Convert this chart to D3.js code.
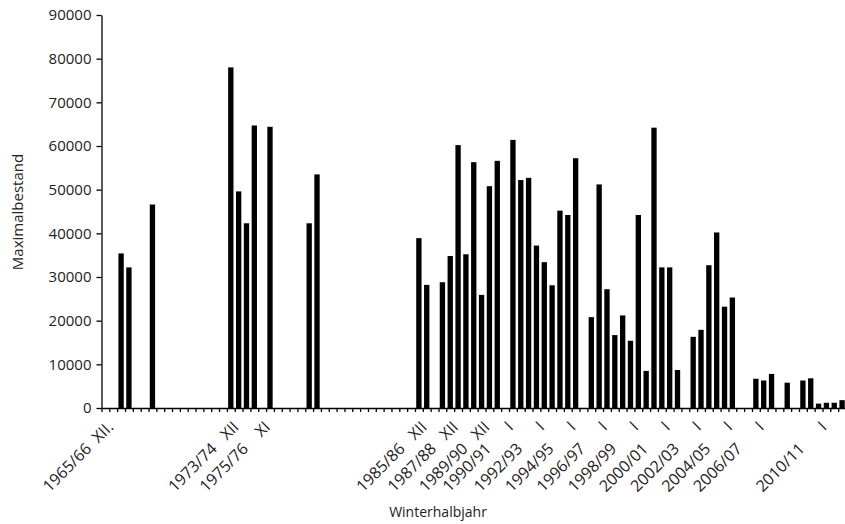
<!DOCTYPE html>
<html>
<head>
<meta charset="utf-8">
<script src="https://cdn.jsdelivr.net/npm/d3@7"></script>
<style>
  body { margin: 0; background: #fff; }
  svg { display: block; font-family: "Open Sans", "Noto Sans", sans-serif; }
</style>
</head>
<body>
<svg id="chart" width="845" height="524"></svg>
<script>
// winters, two slots each (late autumn / january)
const winters = ["1965/66","1966/67","1967/68","1968/69","1969/70","1970/71","1971/72","1972/73",
  "1973/74","1974/75","1975/76","1976/77","1977/78","1978/79","1979/80","1980/81","1981/82",
  "1982/83","1983/84","1984/85","1985/86","1986/87","1987/88","1988/89","1989/90","1990/91",
  "1991/92","1992/93","1993/94","1994/95","1995/96","1996/97","1997/98","1998/99","1999/00",
  "2000/01","2001/02","2002/03","2003/04","2004/05","2005/06","2006/07","2007/08","2008/09",
  "2009/10","2010/11","2011/12","2012/13"];
const slots = ["XII", "I"];

// Maximalbestand per slot (null = no count)
const values = [
  null, null, 35400, 32200, null, null, 46600, null, null, null,
  null, null, null, null, null, null, 78000, 49600, 42300, 64700,
  null, 64400, null, null, null, null, 42300, 53500, null, null,
  null, null, null, null, null, null, null, null, null, null,
  38900, 28200, null, 28800, 34800, 60200, 35200, 56300, 25900, 50800,
  56600, null, 61400, 52200, 52700, 37200, 33400, 28100, 45200, 44200,
  57200, null, 20800, 51200, 27200, 16700, 21200, 15400, 44200, 8500,
  64200, 32200, 32200, 8700, null, 16300, 17900, 32700, 40200, 23200,
  25300, null, null, 6700, 6300, 7800, null, 5800, null, 6300,
  6800, 1000, 1200, 1200, 1800
];

const categories = winters.flatMap(w => slots.map(s => w + " " + s)).slice(0, values.length);

// shown tick labels: [category, year part, month part]
const tickLabels = [
  ["1965/66 XII", "1965/66", "XII."],
  ["1973/74 XII", "1973/74", "XII"],
  ["1975/76 XII", "1975/76", "XI"],
  ["1985/86 XII", "1985/86", "XII"],
  ["1987/88 XII", "1987/88", "XII"],
  ["1989/90 XII", "1989/90", "XII"],
  ["1990/91 I", "1990/91", "I"],
  ["1992/93 I", "1992/93", "I"],
  ["1994/95 I", "1994/95", "I"],
  ["1996/97 I", "1996/97", "I"],
  ["1998/99 I", "1998/99", "I"],
  ["2000/01 I", "2000/01", "I"],
  ["2002/03 I", "2002/03", "I"],
  ["2004/05 I", "2004/05", "I"],
  ["2006/07 I", "2006/07", "I"],
  ["2010/11 I", "2010/11", "I"]
];
const yTicks = [0, 10000, 20000, 30000, 40000, 50000, 60000, 70000, 80000, 90000];

const plotLeft = 101.5, plotRight = 846, plotTop = 15, plotBottom = 408;
const svg = d3.select("#chart");

var x = d3.scaleBand().domain(categories).range([plotLeft, plotRight]).paddingInner(0.32).paddingOuter(0.16);
var xEdge = d3.scaleLinear().domain([0, categories.length]).range([plotLeft, plotRight]);
var y = d3.scaleLinear().domain([0, 90000]).range([plotBottom, plotTop]);

const data = categories.map((c, i) => ({cat: c, v: values[i]})).filter(d => d.v != null);

svg.append("g").selectAll("rect").data(data).enter().append("rect")
  .attr("x", d => x(d.cat))
  .attr("width", x.bandwidth())
  .attr("y", d => y(d.v))
  .attr("height", d => plotBottom - y(d.v))
  .attr("fill", "#000");

// x axis: ticks between categories
var gx = svg.append("g").attr("transform", `translate(0,${plotBottom})`)
  .call(d3.axisBottom(xEdge).tickValues(d3.range(categories.length + 1)).tickFormat("").tickSize(4).tickSizeOuter(0));
gx.select(".domain").attr("stroke", "#000").attr("stroke-width", 1.3);
gx.selectAll(".tick line").attr("stroke", "#000").attr("stroke-width", 1.3);

var gy = svg.append("g").attr("transform", `translate(${plotLeft},0)`)
  .call(d3.axisLeft(y).tickValues(yTicks).tickFormat(d3.format("d")).tickSize(5).tickSizeOuter(0).tickPadding(5));
gy.select(".domain").attr("stroke", "#000").attr("stroke-width", 1.3);
gy.selectAll(".tick line").attr("stroke", "#000").attr("stroke-width", 1.3);
gy.selectAll(".tick text").attr("font-size", 15).attr("fill", "#222").style("font-family", "Open Sans, sans-serif");

// rotated category labels, month part right-aligned
var lab = svg.append("g").selectAll("g").data(tickLabels).enter().append("g")
  .attr("transform", d => `translate(${x(d[0]) + x.bandwidth() / 2 + 5},${plotBottom + 16}) rotate(-45)`)
  .attr("font-size", 16).attr("fill", "#222");
lab.append("text").attr("text-anchor", "end").attr("dy", "0.35em").text(d => d[2]);
lab.append("text").attr("text-anchor", "end").attr("dy", "0.35em").attr("x", -31).text(d => d[1]);

svg.append("text").attr("x", 438).attr("y", 517).attr("text-anchor", "middle")
  .attr("font-size", 14).attr("fill", "#222").text("Winterhalbjahr");
svg.append("text").attr("transform", "translate(23,212) rotate(-90)").attr("text-anchor", "middle")
  .attr("font-size", 15).attr("fill", "#222").text("Maximalbestand");
</script>
</body>
</html>
